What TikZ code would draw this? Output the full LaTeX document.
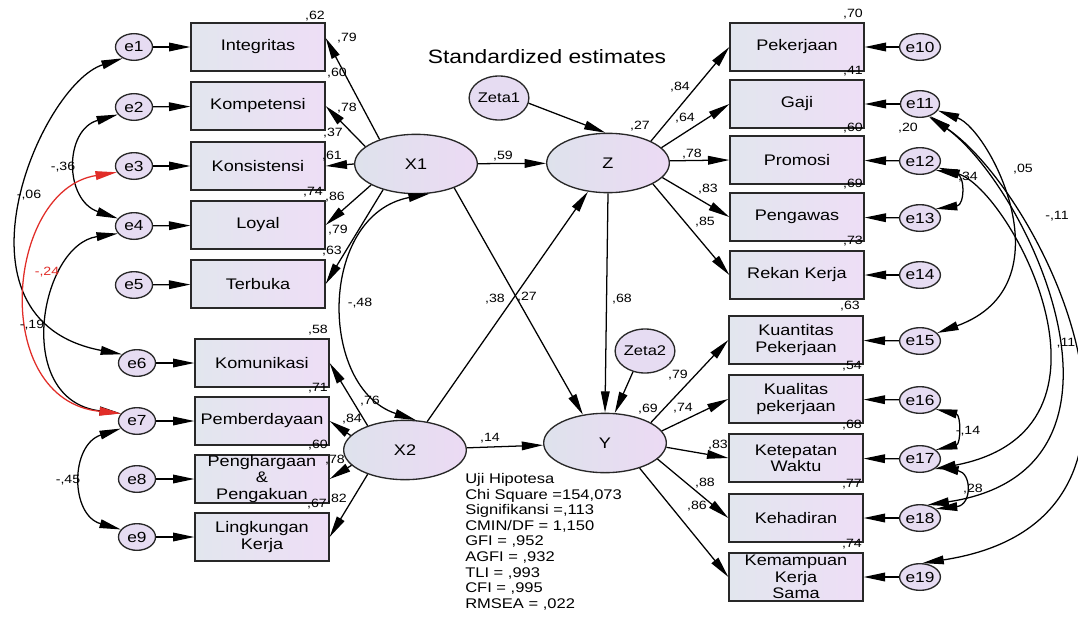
\documentclass[tikz,border=0pt]{standalone}
\usepackage{fontspec}
\setmainfont{Liberation Sans}[FakeStretch=1.18]
\usetikzlibrary{arrows.meta,shapes.geometric}
\definecolor{boxL}{RGB}{226,230,238}
\definecolor{boxR}{RGB}{238,222,246}
\definecolor{latL}{RGB}{222,226,236}
\definecolor{latR}{RGB}{236,218,244}
\definecolor{errC}{RGB}{230,220,242}
\definecolor{edge}{RGB}{40,40,40}
\definecolor{covred}{RGB}{225,45,40}
\newcommand\mylbl[4]{\node[lbl] (#1) at (#2,#3) {#4};}
\begin{document}
\begin{tikzpicture}[x=0.75pt,y=-0.75pt,
  box/.style={rectangle,draw=edge,line width=1pt,left color=boxL,right color=boxR,minimum width=100.5pt,minimum height=36pt,inner sep=0pt,align=center,font=\fontsize{11.5}{12.2}\selectfont},
  lat/.style={ellipse,draw=edge,line width=1pt,left color=latL,right color=latR,minimum width=92pt,minimum height=44.5pt,inner sep=0pt,font=\fontsize{11.5}{12}\selectfont},
  err/.style={ellipse,draw=edge,line width=1pt,fill=errC,minimum width=27.75pt,minimum height=20pt,inner sep=0pt,font=\fontsize{11}{12}\selectfont},
  zet/.style={ellipse,draw=edge,line width=1pt,fill=errC,minimum width=42pt,minimum height=33pt,inner sep=0pt,font=\fontsize{10.5}{12}\selectfont},
  lbl/.style={inner sep=0pt,text height=6.4pt,text depth=0pt,font=\fontsize{9}{10}\selectfont},
  arr/.style={line width=0.95pt,-{Triangle[length=16pt,width=6.5pt]}},
  cov/.style={line width=0.95pt,{Triangle[length=16pt,width=6.5pt]}-{Triangle[length=16pt,width=6.5pt]}},
]
\fill[white] (0,0) rectangle (1078,621);
\useasboundingbox (0,0) rectangle (1078,621);

% title
\node[font=\fontsize{14.5}{16}\selectfont] (title) at (547,57) {Standardized estimates};

% observed boxes
\node[box] (i1) at (258,47) {Integritas};
\node[box] (i2) at (258,106) {Kompetensi};
\node[box] (i3) at (258,166) {Konsistensi};
\node[box] (i4) at (258,225) {Loyal};
\node[box] (i5) at (258,284) {Terbuka};
\node[box] (j1) at (262,363) {Komunikasi};
\node[box] (j2) at (262,421) {Pemberdayaan};
\node[box] (j3) at (262,479) {Penghargaan\\\&\\Pengakuan};
\node[box] (j4) at (262,537) {Lingkungan\\Kerja};
\node[box] (o1) at (797,47) {Pekerjaan};
\node[box] (o2) at (797,104) {Gaji};
\node[box] (o3) at (797,160) {Promosi};
\node[box] (o4) at (797,217) {Pengawas};
\node[box] (o5) at (797,275) {Rekan Kerja};
\node[box] (p1) at (796,340) {Kuantitas\\Pekerjaan};
\node[box] (p2) at (796,399) {Kualitas\\pekerjaan};
\node[box] (p3) at (796,458) {Ketepatan\\Waktu};
\node[box] (p4) at (796,518) {Kehadiran};
\node[box] (p5) at (796,577) {Kemampuan\\Kerja\\Sama};

% latent
\node[lat] (X1) at (416,164) {X1};
\node[lat] (X2) at (405,450) {X2};
\node[lat] (Z) at (608,163) {Z};
\node[lat] (Y) at (605,443) {Y};
\node[zet] (zeta1) at (499,98) {Zeta1};
\node[zet] (zeta2) at (645,351) {Zeta2};

% errors
\node[err] (e1) at (134,47) {e1};
\node[err] (e2) at (134,107) {e2};
\node[err] (e3) at (134,166) {e3};
\node[err] (e4) at (134,226) {e4};
\node[err] (e5) at (134,285) {e5};
\node[err] (e6) at (137,363) {e6};
\node[err] (e7) at (137,421) {e7};
\node[err] (e8) at (137,479) {e8};
\node[err] (e9) at (137,537) {e9};
\node[err] (e10) at (920,47) {e10};
\node[err] (e11) at (920,104) {e11};
\node[err] (e12) at (920,161) {e12};
\node[err] (e13) at (920,218) {e13};
\node[err] (e14) at (920,275) {e14};
\node[err] (e15) at (920,341) {e15};
\node[err] (e16) at (920,400) {e16};
\node[err] (e17) at (920,459) {e17};
\node[err] (e18) at (920,518) {e18};
\node[err] (e19) at (920,577) {e19};

% error -> indicator
\foreach \e/\b in {e1/i1,e2/i2,e3/i3,e4/i4,e5/i5,e6/j1,e7/j2,e8/j3,e9/j4,
  e10/o1,e11/o2,e12/o3,e13/o4,e14/o5,e15/p1,e16/p2,e17/p3,e18/p4,e19/p5}
  \draw[arr] (\e) -- (\b);

% loadings
\draw[arr] (X1.146) -- ([shift={(0,-9)}]i1.east);
\draw[arr] (X1.161) -- (i2.east);
\draw[arr] (X1.180) -- (i3.east);
\draw[arr] (X1.205) -- (i4.east);
\draw[arr] (X1.218) -- (i5.east);
\draw[arr] (X2.147) -- (j1.east);
\draw[arr] (X2.165) -- (j2.east);
\draw[arr] (X2.196) -- (j3.east);
\draw[arr] (X2.213) -- (j4.east);
\draw[arr] (Z.27) -- (o1.west);
\draw[arr] (Z.16) -- (o2.west);
\draw[arr] (Z.2) -- (o3.west);
\draw[arr] (Z.345) -- (o4.west);
\draw[arr] (Z.335) -- (o5.west);
\draw[arr] (Y.24) -- (p1.west);
\draw[arr] (Y.12) -- (p2.west);
\draw[arr] (Y.356) -- (p3.west);
\draw[arr] (Y.343) -- (p4.west);
\draw[arr] (Y.324) -- (p5.west);

% structural
\draw[arr] (X1) -- (Z);
\draw[arr] (X2) -- (Y);
\draw[arr] (X1.328) -- (Y.128);
\draw[arr] (X2.52) -- (Z.235);
\draw[arr] (Z.south) -- (Y.north);
\draw[arr] (zeta1.-10) -- (Z.95);
\draw[arr] (zeta2.240) -- (Y.72);

% covariances left
\draw[cov] (e1.225) .. controls (40,85) and (-60,320) .. (e6.150);
\draw[cov] (e2.205) .. controls (64,130) and (64,200) .. (e4.155);
\draw[cov] (e4.205) .. controls (40,245) and (12,400) .. (e7.155);
\draw[cov,draw=covred] (e3.200) .. controls (5,190) and (-11,400) .. (e7.155);
\draw[cov] (e7.205) .. controls (70,445) and (70,515) .. (e9.155);
\draw[cov] (X1.295) .. controls (318,215) and (318,388) .. (X2.70);

% covariances right
\draw[cov] (e12.-30) .. controls (965,175) and (965,205) .. (e13.30);
\draw[cov] (e16.-30) .. controls (961,415) and (961,444) .. (e17.30);
\draw[cov] (e17.-25) .. controls (972,473) and (972,505) .. (e18.30);
\draw[cov] (e11.-20) .. controls (990,130) and (1070,285) .. (e15.25);
\draw[cov] (e12.-20) .. controls (1010,190) and (1140,430) .. (e17.-35);
\draw[cov] (e11.-50) .. controls (1030,190) and (1160,470) .. (e18.60);
\draw[cov] (e11.-55) .. controls (1040,190) and (1205,520) .. (e19.80);

% labels
\mylbl{a1}{315}{15}{,62}
\mylbl{a2}{347}{37}{,79}
\mylbl{a3}{337}{72}{,60}
\mylbl{a4}{347}{107}{,78}
\mylbl{a5}{333}{132}{,37}
\mylbl{a6}{332}{155}{,61}
\mylbl{a7}{313}{191}{,74}
\mylbl{a8}{335}{196}{,86}
\mylbl{a9}{338}{229}{,79}
\mylbl{a10}{332}{250}{,63}
\mylbl{b1}{63}{166}{-,36}
\mylbl{b2}{29}{194}{-,06}
\mylbl{b3}{32}{324}{-,19}
\mylbl{b4}{360}{302}{-,48}
\mylbl{b5}{68}{479}{-,45}
\node[lbl,text=covred] (b6) at (47,271) {-,24};
\mylbl{c1}{318}{329}{,58}
\mylbl{c2}{318}{387}{,71}
\mylbl{c3}{370}{400}{,76}
\mylbl{c4}{352}{418}{,84}
\mylbl{c5}{318}{444}{,60}
\mylbl{c6}{335}{459}{,78}
\mylbl{c7}{317}{503}{,67}
\mylbl{c8}{337}{498}{,82}
\mylbl{d1}{503}{155}{,59}
\mylbl{d2}{640}{125}{,27}
\mylbl{d3}{680}{86}{,84}
\mylbl{d4}{685}{117}{,64}
\mylbl{d5}{692}{153}{,78}
\mylbl{d6}{708}{188}{,83}
\mylbl{d7}{705}{221}{,85}
\mylbl{d8}{495}{298}{,38}
\mylbl{d9}{527}{296}{,27}
\mylbl{d10}{622}{298}{,68}
\mylbl{d11}{490}{437}{,14}
\mylbl{d12}{648}{408}{,69}
\mylbl{d13}{678}{374}{,79}
\mylbl{d14}{683}{407}{,74}
\mylbl{d15}{718}{444}{,83}
\mylbl{d16}{705}{482}{,88}
\mylbl{d17}{697}{505}{,86}
\mylbl{f1}{853}{13}{,70}
\mylbl{f2}{853}{70}{,41}
\mylbl{f3}{853}{127}{,60}
\mylbl{f4}{853}{183}{,69}
\mylbl{f5}{853}{240}{,73}
\mylbl{f6}{850}{305}{,63}
\mylbl{f7}{852}{365}{,54}
\mylbl{f8}{852}{424}{,68}
\mylbl{f9}{852}{483}{,77}
\mylbl{f10}{852}{543}{,74}
\mylbl{g1}{908}{127}{,20}
\mylbl{g2}{1023}{168}{,05}
\mylbl{g3}{968}{176}{,34}
\mylbl{g4}{1057}{215}{-,11}
\mylbl{g5}{1066}{342}{,11}
\mylbl{g6}{968}{430}{-,14}
\mylbl{g7}{973}{488}{,28}

% fit statistics
\node[anchor=north west,align=left,inner sep=0pt,font=\fontsize{10.5}{11.7}\selectfont] (stats) at (465,473)
 {Uji Hipotesa\\Chi Square =154,073\\Signifikansi =,113\\CMIN/DF = 1,150\\GFI = ,952\\AGFI = ,932\\TLI = ,993\\CFI = ,995\\RMSEA = ,022};
\end{tikzpicture}
\end{document}
